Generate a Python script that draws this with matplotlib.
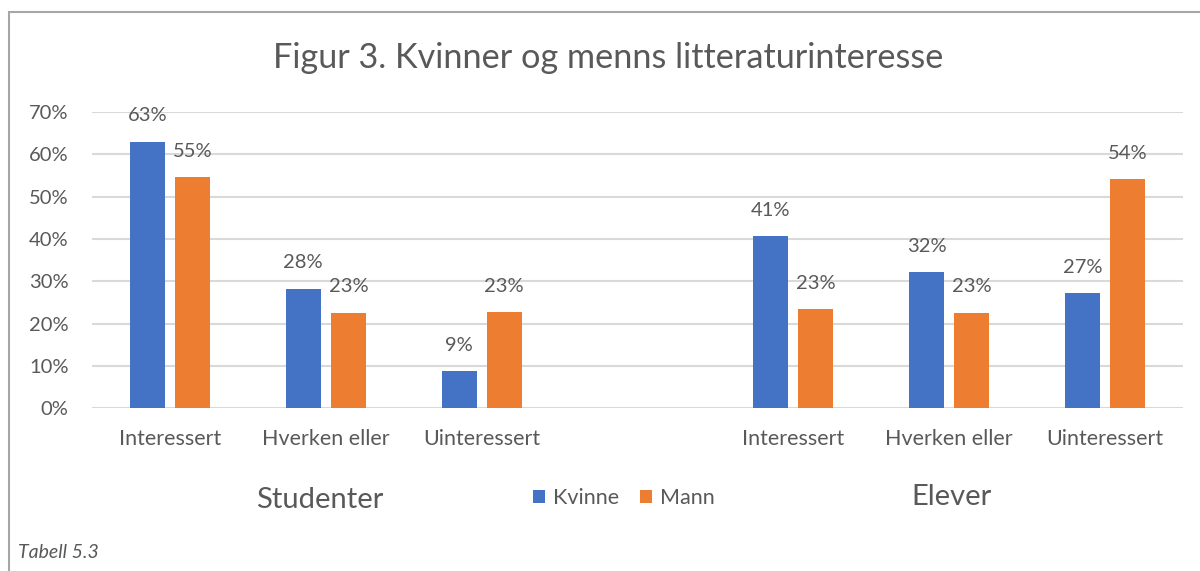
import numpy as np
import matplotlib.pyplot as plt
from matplotlib.patches import Rectangle

plt.rcParams['font.family'] = ['Lato', 'DejaVu Sans']

# data
kategorier = ['Interessert', 'Hverken eller', 'Uinteressert']
grupper = ['Studenter', 'Elever']
kvinne = [63.0, 28.3, 8.7, 40.6, 32.2, 27.2]
mann = [54.7, 22.6, 22.7, 23.4, 22.6, 54.1]

blaa = '#4472C4'
oransje = '#ED7D31'
tekst = '#595959'

# posisjoner: tre kategorier, en tom plass, tre kategorier
pos = np.array([0, 1, 2, 4, 5, 6])
b = 0.225
d = 0.145

fig = plt.figure(figsize=(12, 5.71), dpi=100)
ax = fig.add_axes([92/1200, 1 - 408.3/571, (1183 - 92)/1200, (408.3 - 112)/571])

s1 = ax.bar(pos - d, kvinne, b, color=blaa, label='Kvinne', zorder=3)
s2 = ax.bar(pos + d, mann, b, color=oransje, label='Mann', zorder=3)

for serie, verdier in [(s1, kvinne), (s2, mann)]:
    for rekt, v in zip(serie, verdier):
        ax.annotate(f'{int(v + 0.5)}%', (rekt.get_x() + rekt.get_width()/2, v),
                    xytext=(0, 18.5), textcoords='offset points',
                    ha='center', va='center', fontsize=14.5, color=tekst)

ax.set_xlim(-0.5, 6.5)
ax.set_ylim(0, 70)
ax.set_yticks(np.arange(0, 71, 10))
ax.set_yticklabels([f'{t}%' for t in range(0, 71, 10)])
ax.set_xticks(pos)
ax.set_xticklabels(kategorier * 2)
ax.tick_params(axis='both', length=0, labelcolor=tekst)
ax.tick_params(axis='y', pad=17, labelsize=14.5)
ax.tick_params(axis='x', pad=15, labelsize=15.5)
ax.grid(axis='y', color='#D9D9D9', linewidth=1.5, zorder=0)
for sp in ax.spines.values():
    sp.set_visible(False)

fig.text(608/1200, 1 - 58/571, 'Figur 3. Kvinner og menns litteraturinteresse',
         ha='center', va='center', fontsize=24.7, color=tekst)
fig.text(320/1200, 1 - 500/571, grupper[0], ha='center', va='center', fontsize=21, color=tekst)
fig.text(952/1200, 1 - 497/571, grupper[1], ha='center', va='center', fontsize=21, color=tekst)
fig.text(18/1200, 1 - 552/571, 'Tabell 5.3', ha='left', va='center', fontsize=14,
         style='italic', color=tekst)

fig.legend(loc='center', bbox_to_anchor=(624/1200, 1 - 498/571), ncol=2, frameon=False,
           fontsize=15.5, labelcolor=tekst, handlelength=0.55, handleheight=0.55,
           handletextpad=0.35, columnspacing=1.0)

fig.patches.append(Rectangle((9/1200, -0.05), 1.1, 1 - 12/571 + 0.05, transform=fig.transFigure,
                             fill=False, edgecolor='#A6A6A6', linewidth=1.5))

fig.savefig('out.png', dpi=100)
